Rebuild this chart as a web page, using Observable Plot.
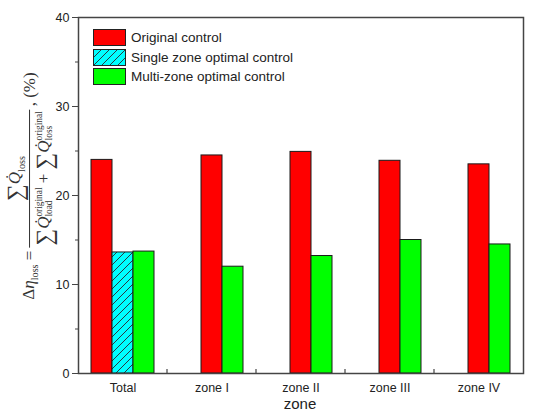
<!DOCTYPE html>
<html>
<head>
<meta charset="utf-8">
<script src="https://cdn.jsdelivr.net/npm/d3@7"></script>
<script src="https://cdn.jsdelivr.net/npm/@observablehq/plot@0.6"></script>
<style>
  body { margin: 0; background: white; }
  #wrap { position: relative; width: 533px; height: 414px; overflow: hidden; background: white; }
  #wrap svg { position: absolute; left: 0; top: 0; }
  #legend { position: absolute; left: 93px; top: 28px; font-family: "Liberation Sans", Arial, sans-serif; font-size: 13.5px; color: #222; }
  .lrow { display: flex; align-items: center; height: 19.5px; }
  .sw { width: 31px; height: 15px; border: 1px solid #222; margin-right: 5px; box-sizing: content-box; }
  #xlab { position: absolute; left: 300px; top: 396px; line-height: 16px; transform: translateX(-50%); font-family: "Liberation Sans", Arial, sans-serif; font-size: 15px; color: #222; }
  #ylab { position: absolute; left: 30px; top: 186px; transform: translate(-50%, -50%) rotate(-90deg); white-space: nowrap;
          font-family: "Liberation Serif", "Times New Roman", serif; font-size: 17px; color: #333; display: flex; align-items: center; }
  .frac { display: inline-flex; flex-direction: column; align-items: center; margin: 0 3px; }
  .num { padding: 0 2px 0; line-height: 1.15; }
  .den { border-top: 1px solid #333; padding: 1px 2px 0; line-height: 1.15; }
  .sig { font-size: 1.38em; vertical-align: -0.12em; }
  .ss { display: inline-flex; flex-direction: column; font-size: 0.55em; line-height: 1.05; vertical-align: middle; }
  sub { font-size: 0.6em; }
</style>
</head>
<body>
<div id="wrap"></div>
<script>
// ---- data ----
const categories = ["Total", "zone I", "zone II", "zone III", "zone IV"];
const seriesNames = ["Original control", "Single zone optimal control", "Multi-zone optimal control"];
const originalControl = [24.0, 24.5, 24.9, 23.9, 23.5];
const singleZoneOptimal = [13.6, null, null, null, null];
const multiZoneOptimal = [13.7, 12.0, 13.2, 15.0, 14.5];
const seriesColors = ["#ff0000", "url(#hatch)", "#00ff00"];
const yTicks = [0, 10, 20, 30, 40];
const yMinorTicks = [5, 15, 25, 35];
const slots = ["s1", "s2", "s3"];

// rows: within each category, bars occupy slots; when the single-zone bar is absent,
// the original bar sits in the middle slot (as in the reference)
const rows = [];
categories.forEach((c, i) => {
  const hasSingle = singleZoneOptimal[i] != null;
  rows.push({zone: c, slot: hasSingle ? "s1" : "s2", series: seriesNames[0], value: originalControl[i]});
  if (hasSingle) rows.push({zone: c, slot: "s2", series: seriesNames[1], value: singleZoneOptimal[i]});
  rows.push({zone: c, slot: "s3", series: seriesNames[2], value: multiZoneOptimal[i]});
});

const plot = Plot.plot({
  width: 533, height: 414,
  marginLeft: 77, marginRight: 10, marginTop: 17, marginBottom: 41,
  style: {fontFamily: "Liberation Sans, Arial, sans-serif", fontSize: "12.5px", color: "#222", background: "transparent"},
  fx: {domain: categories, padding: 0, label: null},
  x: {domain: slots, paddingInner: 0, paddingOuter: 0.594, axis: null},
  y: {domain: [0, 40], label: null},
  color: {domain: seriesNames, range: seriesColors},
  marks: [
    Plot.barY(rows, {fx: "zone", x: "slot", y: "value", fill: "series", stroke: "#1a1a1a", strokeWidth: 1}),
    Plot.frame({stroke: "#444", strokeWidth: 1.5, facet: "super"}),
    Plot.axisY({ticks: yTicks, tickSize: 6, tickPadding: 3, label: null, stroke: "#444"}),
    Plot.axisY({ticks: yMinorTicks, tickSize: 3, tickFormat: () => "", label: null, stroke: "#444"}),
    Plot.axisFx({anchor: "bottom", tickSize: 0, tickPadding: 10, label: null})
  ]
});

// hatch pattern for the single-zone bar
const svg = d3.select(plot);
const defs = svg.insert("defs", ":first-child");
const pat = defs.append("pattern").attr("id", "hatch").attr("patternUnits", "userSpaceOnUse")
  .attr("width", 8).attr("height", 8);
pat.append("rect").attr("width", 8).attr("height", 8).attr("fill", "#00ffff");
pat.append("path").attr("d", "M-2,2 L2,-2 M0,8 L8,0 M6,10 L10,6").attr("stroke", "#2a3a40").attr("stroke-width", 1);

// small inward ticks at category boundaries
const fxs = plot.scale("fx");
const ys = plot.scale("y");
const y0 = ys.apply(0);
categories.slice(1).forEach(c => {
  const xb = fxs.apply(c);
  svg.append("line").attr("x1", xb).attr("x2", xb).attr("y1", y0).attr("y2", y0 - 4)
    .attr("stroke", "#444").attr("stroke-width", 1.2);
});

const wrap = document.getElementById("wrap");
wrap.appendChild(plot);

// legend
const legend = document.createElement("div");
legend.id = "legend";
seriesNames.forEach((name, i) => {
  const row = document.createElement("div");
  row.className = "lrow";
  const sw = document.createElement("div");
  sw.className = "sw";
  sw.style.background = i === 1
    ? "repeating-linear-gradient(-45deg, #00ffff 0px, #00ffff 4.5px, #2a3a40 4.5px, #2a3a40 5.6px)"
    : seriesColors[i];
  row.appendChild(sw);
  const t = document.createElement("span");
  t.textContent = name;
  row.appendChild(t);
  legend.appendChild(row);
});
wrap.appendChild(legend);

// axis titles
const xlab = document.createElement("div");
xlab.id = "xlab";
xlab.textContent = "zone";
wrap.appendChild(xlab);

const ylab = document.createElement("div");
ylab.id = "ylab";
ylab.innerHTML =
  '<span>Δ<i>η</i><sub>loss</sub></span>&nbsp;=' +
  '<span class="frac">' +
    '<span class="num"><span class="sig">∑</span><i>Q̇</i><sub>loss</sub></span>' +
    '<span class="den"><span class="sig">∑</span><i>Q̇</i><span class="ss"><span>original</span><span>load</span></span>' +
    ' + <span class="sig">∑</span><i>Q̇</i><span class="ss"><span>original</span><span>loss</span></span></span>' +
  '</span>, (%)';
wrap.appendChild(ylab);
</script>
</body>
</html>
